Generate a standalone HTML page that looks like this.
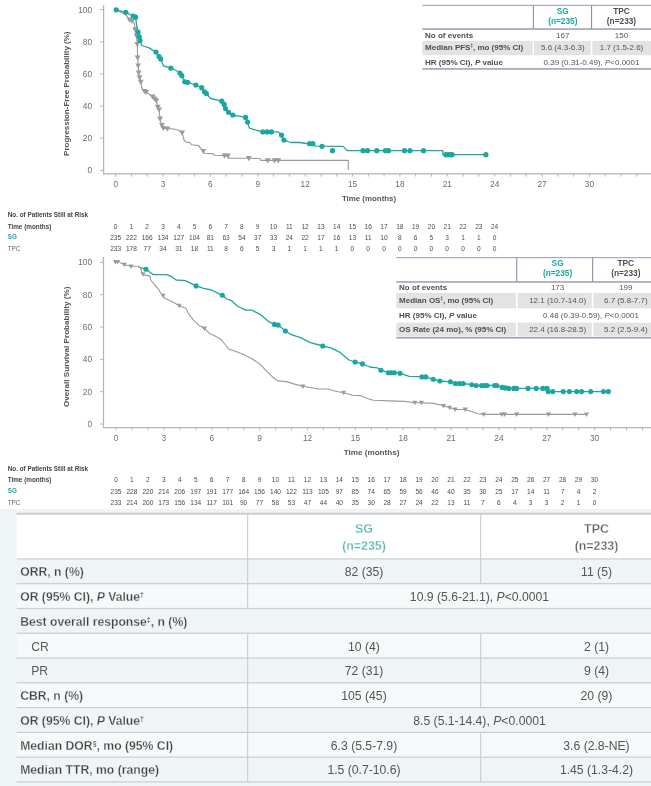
<!DOCTYPE html>
<html><head><meta charset="utf-8"><title>PFS / OS Kaplan-Meier and response table</title>
<style>
html,body{margin:0;padding:0;background:#ffffff;}
body{width:651px;height:786px;overflow:hidden;font-family:"Liberation Sans",sans-serif;}
svg{display:block;font-family:"Liberation Sans",sans-serif;will-change:transform;}
</style></head><body>
<svg width="651" height="786" viewBox="0 0 651 786">
<rect x="0" y="0" width="651" height="786" fill="#ffffff"/>
<g id="pfs">
<line x1="103.6" y1="5.2" x2="103.6" y2="173.8" stroke="#b4b4b4" stroke-width="1.25"/>
<line x1="103.0" y1="173.8" x2="651" y2="173.8" stroke="#b4b4b4" stroke-width="1.25"/>
<line x1="100.1" y1="9.6" x2="103.6" y2="9.6" stroke="#b4b4b4" stroke-width="1"/>
<text x="92.1" y="12.6" font-size="8.3" text-anchor="end" font-weight="normal" fill="#6c6c6c" >100</text>
<line x1="100.1" y1="41.8" x2="103.6" y2="41.8" stroke="#b4b4b4" stroke-width="1"/>
<text x="92.1" y="44.7" font-size="8.3" text-anchor="end" font-weight="normal" fill="#6c6c6c" >80</text>
<line x1="100.1" y1="73.9" x2="103.6" y2="73.9" stroke="#b4b4b4" stroke-width="1"/>
<text x="92.1" y="76.9" font-size="8.3" text-anchor="end" font-weight="normal" fill="#6c6c6c" >60</text>
<line x1="100.1" y1="106.1" x2="103.6" y2="106.1" stroke="#b4b4b4" stroke-width="1"/>
<text x="92.1" y="109.0" font-size="8.3" text-anchor="end" font-weight="normal" fill="#6c6c6c" >40</text>
<line x1="100.1" y1="138.2" x2="103.6" y2="138.2" stroke="#b4b4b4" stroke-width="1"/>
<text x="92.1" y="141.2" font-size="8.3" text-anchor="end" font-weight="normal" fill="#6c6c6c" >20</text>
<line x1="100.1" y1="170.4" x2="103.6" y2="170.4" stroke="#b4b4b4" stroke-width="1"/>
<text x="92.1" y="173.3" font-size="8.3" text-anchor="end" font-weight="normal" fill="#6c6c6c" >0</text>
<line x1="115.7" y1="173.8" x2="115.7" y2="176.6" stroke="#b4b4b4" stroke-width="1"/>
<text x="115.7" y="186.8" font-size="8.3" text-anchor="middle" font-weight="normal" fill="#6c6c6c" >0</text>
<line x1="131.5" y1="173.8" x2="131.5" y2="176.6" stroke="#b4b4b4" stroke-width="1"/>
<line x1="147.3" y1="173.8" x2="147.3" y2="176.6" stroke="#b4b4b4" stroke-width="1"/>
<line x1="163.1" y1="173.8" x2="163.1" y2="176.6" stroke="#b4b4b4" stroke-width="1"/>
<text x="163.1" y="186.8" font-size="8.3" text-anchor="middle" font-weight="normal" fill="#6c6c6c" >3</text>
<line x1="178.9" y1="173.8" x2="178.9" y2="176.6" stroke="#b4b4b4" stroke-width="1"/>
<line x1="194.6" y1="173.8" x2="194.6" y2="176.6" stroke="#b4b4b4" stroke-width="1"/>
<line x1="210.4" y1="173.8" x2="210.4" y2="176.6" stroke="#b4b4b4" stroke-width="1"/>
<text x="210.4" y="186.8" font-size="8.3" text-anchor="middle" font-weight="normal" fill="#6c6c6c" >6</text>
<line x1="226.2" y1="173.8" x2="226.2" y2="176.6" stroke="#b4b4b4" stroke-width="1"/>
<line x1="242.0" y1="173.8" x2="242.0" y2="176.6" stroke="#b4b4b4" stroke-width="1"/>
<line x1="257.8" y1="173.8" x2="257.8" y2="176.6" stroke="#b4b4b4" stroke-width="1"/>
<text x="257.8" y="186.8" font-size="8.3" text-anchor="middle" font-weight="normal" fill="#6c6c6c" >9</text>
<line x1="273.6" y1="173.8" x2="273.6" y2="176.6" stroke="#b4b4b4" stroke-width="1"/>
<line x1="289.4" y1="173.8" x2="289.4" y2="176.6" stroke="#b4b4b4" stroke-width="1"/>
<line x1="305.2" y1="173.8" x2="305.2" y2="176.6" stroke="#b4b4b4" stroke-width="1"/>
<text x="305.2" y="186.8" font-size="8.3" text-anchor="middle" font-weight="normal" fill="#6c6c6c" >12</text>
<line x1="321.0" y1="173.8" x2="321.0" y2="176.6" stroke="#b4b4b4" stroke-width="1"/>
<line x1="336.8" y1="173.8" x2="336.8" y2="176.6" stroke="#b4b4b4" stroke-width="1"/>
<line x1="352.6" y1="173.8" x2="352.6" y2="176.6" stroke="#b4b4b4" stroke-width="1"/>
<text x="352.6" y="186.8" font-size="8.3" text-anchor="middle" font-weight="normal" fill="#6c6c6c" >15</text>
<line x1="368.3" y1="173.8" x2="368.3" y2="176.6" stroke="#b4b4b4" stroke-width="1"/>
<line x1="384.1" y1="173.8" x2="384.1" y2="176.6" stroke="#b4b4b4" stroke-width="1"/>
<line x1="399.9" y1="173.8" x2="399.9" y2="176.6" stroke="#b4b4b4" stroke-width="1"/>
<text x="399.9" y="186.8" font-size="8.3" text-anchor="middle" font-weight="normal" fill="#6c6c6c" >18</text>
<line x1="415.7" y1="173.8" x2="415.7" y2="176.6" stroke="#b4b4b4" stroke-width="1"/>
<line x1="431.5" y1="173.8" x2="431.5" y2="176.6" stroke="#b4b4b4" stroke-width="1"/>
<line x1="447.3" y1="173.8" x2="447.3" y2="176.6" stroke="#b4b4b4" stroke-width="1"/>
<text x="447.3" y="186.8" font-size="8.3" text-anchor="middle" font-weight="normal" fill="#6c6c6c" >21</text>
<line x1="463.1" y1="173.8" x2="463.1" y2="176.6" stroke="#b4b4b4" stroke-width="1"/>
<line x1="478.9" y1="173.8" x2="478.9" y2="176.6" stroke="#b4b4b4" stroke-width="1"/>
<line x1="494.7" y1="173.8" x2="494.7" y2="176.6" stroke="#b4b4b4" stroke-width="1"/>
<text x="494.7" y="186.8" font-size="8.3" text-anchor="middle" font-weight="normal" fill="#6c6c6c" >24</text>
<line x1="510.4" y1="173.8" x2="510.4" y2="176.6" stroke="#b4b4b4" stroke-width="1"/>
<line x1="526.2" y1="173.8" x2="526.2" y2="176.6" stroke="#b4b4b4" stroke-width="1"/>
<line x1="542.0" y1="173.8" x2="542.0" y2="176.6" stroke="#b4b4b4" stroke-width="1"/>
<text x="542.0" y="186.8" font-size="8.3" text-anchor="middle" font-weight="normal" fill="#6c6c6c" >27</text>
<line x1="557.8" y1="173.8" x2="557.8" y2="176.6" stroke="#b4b4b4" stroke-width="1"/>
<line x1="573.6" y1="173.8" x2="573.6" y2="176.6" stroke="#b4b4b4" stroke-width="1"/>
<line x1="589.4" y1="173.8" x2="589.4" y2="176.6" stroke="#b4b4b4" stroke-width="1"/>
<text x="589.4" y="186.8" font-size="8.3" text-anchor="middle" font-weight="normal" fill="#6c6c6c" >30</text>
<line x1="605.2" y1="173.8" x2="605.2" y2="176.6" stroke="#b4b4b4" stroke-width="1"/>
<line x1="621.0" y1="173.8" x2="621.0" y2="176.6" stroke="#b4b4b4" stroke-width="1"/>
<line x1="636.8" y1="173.8" x2="636.8" y2="176.6" stroke="#b4b4b4" stroke-width="1"/>
<text transform="translate(68.8 93.7) rotate(-90)" font-size="8.0" font-weight="bold" text-anchor="middle" fill="#555555">Progression-Free Probability (%)</text>
<text x="369.0" y="200.6" font-size="7.9" text-anchor="middle" font-weight="bold" fill="#555555" >Time (months)</text>
<polyline points="116.2,9.8 125.8,14.7 129.5,19.7 131.9,20.9 134.4,23.3 135.1,29.5 136.4,35.6 137.3,44.2 137.6,57.7 138.1,65.6 138.7,72.8 139.6,77.4 140.8,82.0 142.0,88.4 144.4,91.2 146.2,92.1 152.6,96.7 154.5,98.6 156.3,100.4 157.8,106.9 159.1,109.6 160.0,118.8 161.9,125.3 163.2,128.1 167.4,128.6 173.8,129.0 179.4,130.5 182.1,132.7 184.0,140.0 185.8,141.9 190.4,142.8 191.4,144.7 198.7,145.6 199.7,147.1 203.3,151.1 204.3,153.3 213.5,153.9 214.4,155.2 224.5,155.7 227.9,155.7 228.8,158.1 248.8,158.3 260.0,158.5 261.0,160.4 348.3,160.4 348.3,170.0" fill="none" stroke="#9a9a9a" stroke-width="1.1" stroke-linejoin="round"/>
<path d="M126.6 17.5L132.4 17.5L129.5 22.7Z" fill="#9a9a9a"/>
<path d="M129.0 18.7L134.8 18.7L131.9 23.9Z" fill="#9a9a9a"/>
<path d="M132.2 27.3L138.0 27.3L135.1 32.5Z" fill="#9a9a9a"/>
<path d="M133.5 33.4L139.3 33.4L136.4 38.6Z" fill="#9a9a9a"/>
<path d="M134.4 42.0L140.2 42.0L137.3 47.2Z" fill="#9a9a9a"/>
<path d="M134.7 55.5L140.5 55.5L137.6 60.7Z" fill="#9a9a9a"/>
<path d="M135.2 63.4L141.0 63.4L138.1 68.6Z" fill="#9a9a9a"/>
<path d="M135.8 70.6L141.6 70.6L138.7 75.8Z" fill="#9a9a9a"/>
<path d="M136.7 75.2L142.5 75.2L139.6 80.4Z" fill="#9a9a9a"/>
<path d="M137.9 79.8L143.7 79.8L140.8 85.0Z" fill="#9a9a9a"/>
<path d="M141.5 89.0L147.3 89.0L144.4 94.2Z" fill="#9a9a9a"/>
<path d="M143.3 89.9L149.1 89.9L146.2 95.1Z" fill="#9a9a9a"/>
<path d="M149.7 94.5L155.5 94.5L152.6 99.7Z" fill="#9a9a9a"/>
<path d="M151.6 96.4L157.4 96.4L154.5 101.6Z" fill="#9a9a9a"/>
<path d="M153.4 98.2L159.2 98.2L156.3 103.4Z" fill="#9a9a9a"/>
<path d="M154.9 104.7L160.7 104.7L157.8 109.9Z" fill="#9a9a9a"/>
<path d="M156.2 107.4L162.0 107.4L159.1 112.6Z" fill="#9a9a9a"/>
<path d="M157.1 116.6L162.9 116.6L160.0 121.8Z" fill="#9a9a9a"/>
<path d="M159.0 123.1L164.8 123.1L161.9 128.3Z" fill="#9a9a9a"/>
<path d="M160.3 125.9L166.1 125.9L163.2 131.1Z" fill="#9a9a9a"/>
<path d="M164.5 126.4L170.3 126.4L167.4 131.6Z" fill="#9a9a9a"/>
<path d="M179.2 130.5L185.0 130.5L182.1 135.7Z" fill="#9a9a9a"/>
<path d="M200.4 148.9L206.2 148.9L203.3 154.1Z" fill="#9a9a9a"/>
<path d="M221.6 153.5L227.4 153.5L224.5 158.7Z" fill="#9a9a9a"/>
<path d="M225.0 153.5L230.8 153.5L227.9 158.7Z" fill="#9a9a9a"/>
<path d="M245.9 156.1L251.7 156.1L248.8 161.3Z" fill="#9a9a9a"/>
<path d="M264.8 158.2L270.6 158.2L267.7 163.4Z" fill="#9a9a9a"/>
<path d="M271.7 158.2L277.5 158.2L274.6 163.4Z" fill="#9a9a9a"/>
<path d="M275.4 158.2L281.2 158.2L278.3 163.4Z" fill="#9a9a9a"/>
<polyline points="116.2,9.8 125.8,12.3 133.2,16.0 135.6,17.2 136.9,27.0 138.1,32.0 139.3,36.9 140.0,40.5 141.8,45.5 149.1,47.9 156.0,52.1 159.0,56.5 160.7,59.0 163.4,65.8 170.8,68.1 176.2,70.5 179.9,73.0 181.8,75.7 184.8,81.8 187.7,82.3 195.8,85.0 201.7,87.7 204.5,91.8 206.4,93.6 210.7,98.5 221.8,101.2 224.2,104.4 225.5,108.6 228.6,112.3 232.8,115.0 239.0,116.2 245.6,117.4 247.6,122.1 249.3,128.2 256.2,130.2 262.8,131.9 278.3,131.9 281.5,135.1 283.9,140.0 290.6,142.5 300.0,142.5 306.0,143.5 313.5,143.7 315.4,146.1 343.0,146.4 347.6,150.7 442.9,150.7 442.9,154.7 485.9,154.7" fill="none" stroke="#1ba7a0" stroke-width="1.3" stroke-linejoin="round"/>
<circle cx="116.2" cy="9.8" r="2.6" fill="#1ba7a0"/>
<circle cx="125.8" cy="12.3" r="2.6" fill="#1ba7a0"/>
<circle cx="133.2" cy="16.0" r="2.6" fill="#1ba7a0"/>
<circle cx="135.6" cy="17.2" r="2.6" fill="#1ba7a0"/>
<circle cx="138.1" cy="32.0" r="2.6" fill="#1ba7a0"/>
<circle cx="139.3" cy="36.9" r="2.6" fill="#1ba7a0"/>
<circle cx="140.0" cy="40.5" r="2.6" fill="#1ba7a0"/>
<circle cx="156.0" cy="52.1" r="2.6" fill="#1ba7a0"/>
<circle cx="159.0" cy="56.5" r="2.6" fill="#1ba7a0"/>
<circle cx="160.7" cy="59.0" r="2.6" fill="#1ba7a0"/>
<circle cx="170.8" cy="68.1" r="2.6" fill="#1ba7a0"/>
<circle cx="179.9" cy="73.0" r="2.6" fill="#1ba7a0"/>
<circle cx="181.8" cy="75.7" r="2.6" fill="#1ba7a0"/>
<circle cx="184.8" cy="81.8" r="2.6" fill="#1ba7a0"/>
<circle cx="187.7" cy="82.3" r="2.6" fill="#1ba7a0"/>
<circle cx="195.8" cy="85.0" r="2.6" fill="#1ba7a0"/>
<circle cx="201.7" cy="87.7" r="2.6" fill="#1ba7a0"/>
<circle cx="204.5" cy="91.8" r="2.6" fill="#1ba7a0"/>
<circle cx="206.4" cy="93.6" r="2.6" fill="#1ba7a0"/>
<circle cx="221.8" cy="101.2" r="2.6" fill="#1ba7a0"/>
<circle cx="224.2" cy="104.4" r="2.6" fill="#1ba7a0"/>
<circle cx="225.5" cy="108.6" r="2.6" fill="#1ba7a0"/>
<circle cx="228.6" cy="112.3" r="2.6" fill="#1ba7a0"/>
<circle cx="232.8" cy="115.0" r="2.6" fill="#1ba7a0"/>
<circle cx="245.6" cy="117.4" r="2.6" fill="#1ba7a0"/>
<circle cx="247.6" cy="122.1" r="2.6" fill="#1ba7a0"/>
<circle cx="262.8" cy="131.9" r="2.6" fill="#1ba7a0"/>
<circle cx="267.2" cy="131.9" r="2.6" fill="#1ba7a0"/>
<circle cx="271.4" cy="131.9" r="2.6" fill="#1ba7a0"/>
<circle cx="281.5" cy="135.1" r="2.6" fill="#1ba7a0"/>
<circle cx="283.9" cy="140.0" r="2.6" fill="#1ba7a0"/>
<circle cx="309.6" cy="143.7" r="2.6" fill="#1ba7a0"/>
<circle cx="312.8" cy="143.7" r="2.6" fill="#1ba7a0"/>
<circle cx="322.0" cy="146.3" r="2.6" fill="#1ba7a0"/>
<circle cx="332.5" cy="150.7" r="2.6" fill="#1ba7a0"/>
<circle cx="363.0" cy="150.7" r="2.6" fill="#1ba7a0"/>
<circle cx="367.6" cy="150.7" r="2.6" fill="#1ba7a0"/>
<circle cx="376.8" cy="150.7" r="2.6" fill="#1ba7a0"/>
<circle cx="385.4" cy="150.7" r="2.6" fill="#1ba7a0"/>
<circle cx="388.5" cy="150.7" r="2.6" fill="#1ba7a0"/>
<circle cx="404.5" cy="150.7" r="2.6" fill="#1ba7a0"/>
<circle cx="410.0" cy="150.7" r="2.6" fill="#1ba7a0"/>
<circle cx="423.5" cy="150.7" r="2.6" fill="#1ba7a0"/>
<circle cx="445.9" cy="154.7" r="2.6" fill="#1ba7a0"/>
<circle cx="448.4" cy="154.7" r="2.6" fill="#1ba7a0"/>
<circle cx="450.5" cy="154.7" r="2.6" fill="#1ba7a0"/>
<circle cx="452.1" cy="154.7" r="2.6" fill="#1ba7a0"/>
<circle cx="485.9" cy="154.7" r="2.6" fill="#1ba7a0"/>
</g>
<g id="os">
<line x1="103.5" y1="257.0" x2="103.5" y2="427.5" stroke="#b4b4b4" stroke-width="1.25"/>
<line x1="102.9" y1="427.5" x2="651" y2="427.5" stroke="#b4b4b4" stroke-width="1.25"/>
<line x1="100.0" y1="262.4" x2="103.5" y2="262.4" stroke="#b4b4b4" stroke-width="1"/>
<text x="92.0" y="265.3" font-size="8.3" text-anchor="end" font-weight="normal" fill="#6c6c6c" >100</text>
<line x1="100.0" y1="294.7" x2="103.5" y2="294.7" stroke="#b4b4b4" stroke-width="1"/>
<text x="92.0" y="297.7" font-size="8.3" text-anchor="end" font-weight="normal" fill="#6c6c6c" >80</text>
<line x1="100.0" y1="327.0" x2="103.5" y2="327.0" stroke="#b4b4b4" stroke-width="1"/>
<text x="92.0" y="330.0" font-size="8.3" text-anchor="end" font-weight="normal" fill="#6c6c6c" >60</text>
<line x1="100.0" y1="359.4" x2="103.5" y2="359.4" stroke="#b4b4b4" stroke-width="1"/>
<text x="92.0" y="362.3" font-size="8.3" text-anchor="end" font-weight="normal" fill="#6c6c6c" >40</text>
<line x1="100.0" y1="391.7" x2="103.5" y2="391.7" stroke="#b4b4b4" stroke-width="1"/>
<text x="92.0" y="394.6" font-size="8.3" text-anchor="end" font-weight="normal" fill="#6c6c6c" >20</text>
<line x1="100.0" y1="424.0" x2="103.5" y2="424.0" stroke="#b4b4b4" stroke-width="1"/>
<text x="92.0" y="426.9" font-size="8.3" text-anchor="end" font-weight="normal" fill="#6c6c6c" >0</text>
<line x1="116.1" y1="427.5" x2="116.1" y2="430.3" stroke="#b4b4b4" stroke-width="1"/>
<text x="116.1" y="440.5" font-size="8.3" text-anchor="middle" font-weight="normal" fill="#6c6c6c" >0</text>
<line x1="132.0" y1="427.5" x2="132.0" y2="430.3" stroke="#b4b4b4" stroke-width="1"/>
<line x1="148.0" y1="427.5" x2="148.0" y2="430.3" stroke="#b4b4b4" stroke-width="1"/>
<line x1="163.9" y1="427.5" x2="163.9" y2="430.3" stroke="#b4b4b4" stroke-width="1"/>
<text x="163.9" y="440.5" font-size="8.3" text-anchor="middle" font-weight="normal" fill="#6c6c6c" >3</text>
<line x1="179.9" y1="427.5" x2="179.9" y2="430.3" stroke="#b4b4b4" stroke-width="1"/>
<line x1="195.8" y1="427.5" x2="195.8" y2="430.3" stroke="#b4b4b4" stroke-width="1"/>
<line x1="211.8" y1="427.5" x2="211.8" y2="430.3" stroke="#b4b4b4" stroke-width="1"/>
<text x="211.8" y="440.5" font-size="8.3" text-anchor="middle" font-weight="normal" fill="#6c6c6c" >6</text>
<line x1="227.8" y1="427.5" x2="227.8" y2="430.3" stroke="#b4b4b4" stroke-width="1"/>
<line x1="243.7" y1="427.5" x2="243.7" y2="430.3" stroke="#b4b4b4" stroke-width="1"/>
<line x1="259.6" y1="427.5" x2="259.6" y2="430.3" stroke="#b4b4b4" stroke-width="1"/>
<text x="259.6" y="440.5" font-size="8.3" text-anchor="middle" font-weight="normal" fill="#6c6c6c" >9</text>
<line x1="275.6" y1="427.5" x2="275.6" y2="430.3" stroke="#b4b4b4" stroke-width="1"/>
<line x1="291.5" y1="427.5" x2="291.5" y2="430.3" stroke="#b4b4b4" stroke-width="1"/>
<line x1="307.5" y1="427.5" x2="307.5" y2="430.3" stroke="#b4b4b4" stroke-width="1"/>
<text x="307.5" y="440.5" font-size="8.3" text-anchor="middle" font-weight="normal" fill="#6c6c6c" >12</text>
<line x1="323.4" y1="427.5" x2="323.4" y2="430.3" stroke="#b4b4b4" stroke-width="1"/>
<line x1="339.4" y1="427.5" x2="339.4" y2="430.3" stroke="#b4b4b4" stroke-width="1"/>
<line x1="355.4" y1="427.5" x2="355.4" y2="430.3" stroke="#b4b4b4" stroke-width="1"/>
<text x="355.4" y="440.5" font-size="8.3" text-anchor="middle" font-weight="normal" fill="#6c6c6c" >15</text>
<line x1="371.3" y1="427.5" x2="371.3" y2="430.3" stroke="#b4b4b4" stroke-width="1"/>
<line x1="387.2" y1="427.5" x2="387.2" y2="430.3" stroke="#b4b4b4" stroke-width="1"/>
<line x1="403.2" y1="427.5" x2="403.2" y2="430.3" stroke="#b4b4b4" stroke-width="1"/>
<text x="403.2" y="440.5" font-size="8.3" text-anchor="middle" font-weight="normal" fill="#6c6c6c" >18</text>
<line x1="419.1" y1="427.5" x2="419.1" y2="430.3" stroke="#b4b4b4" stroke-width="1"/>
<line x1="435.1" y1="427.5" x2="435.1" y2="430.3" stroke="#b4b4b4" stroke-width="1"/>
<line x1="451.0" y1="427.5" x2="451.0" y2="430.3" stroke="#b4b4b4" stroke-width="1"/>
<text x="451.0" y="440.5" font-size="8.3" text-anchor="middle" font-weight="normal" fill="#6c6c6c" >21</text>
<line x1="467.0" y1="427.5" x2="467.0" y2="430.3" stroke="#b4b4b4" stroke-width="1"/>
<line x1="482.9" y1="427.5" x2="482.9" y2="430.3" stroke="#b4b4b4" stroke-width="1"/>
<line x1="498.9" y1="427.5" x2="498.9" y2="430.3" stroke="#b4b4b4" stroke-width="1"/>
<text x="498.9" y="440.5" font-size="8.3" text-anchor="middle" font-weight="normal" fill="#6c6c6c" >24</text>
<line x1="514.9" y1="427.5" x2="514.9" y2="430.3" stroke="#b4b4b4" stroke-width="1"/>
<line x1="530.8" y1="427.5" x2="530.8" y2="430.3" stroke="#b4b4b4" stroke-width="1"/>
<line x1="546.8" y1="427.5" x2="546.8" y2="430.3" stroke="#b4b4b4" stroke-width="1"/>
<text x="546.8" y="440.5" font-size="8.3" text-anchor="middle" font-weight="normal" fill="#6c6c6c" >27</text>
<line x1="562.7" y1="427.5" x2="562.7" y2="430.3" stroke="#b4b4b4" stroke-width="1"/>
<line x1="578.6" y1="427.5" x2="578.6" y2="430.3" stroke="#b4b4b4" stroke-width="1"/>
<line x1="594.6" y1="427.5" x2="594.6" y2="430.3" stroke="#b4b4b4" stroke-width="1"/>
<text x="594.6" y="440.5" font-size="8.3" text-anchor="middle" font-weight="normal" fill="#6c6c6c" >30</text>
<line x1="610.5" y1="427.5" x2="610.5" y2="430.3" stroke="#b4b4b4" stroke-width="1"/>
<line x1="626.5" y1="427.5" x2="626.5" y2="430.3" stroke="#b4b4b4" stroke-width="1"/>
<line x1="642.5" y1="427.5" x2="642.5" y2="430.3" stroke="#b4b4b4" stroke-width="1"/>
<text transform="translate(68.7 346.8) rotate(-90)" font-size="8.12" font-weight="bold" text-anchor="middle" fill="#555555">Overall Survival Probability (%)</text>
<text x="371.6" y="455.2" font-size="8.1" text-anchor="middle" font-weight="bold" fill="#555555" >Time (months)</text>
<polyline points="138.5,266.6 141.0,267.8 146.1,269.2 153.0,274.6 166.9,274.6 172.2,276.9 176.1,280.0 185.3,280.7 196.1,285.8 203.7,288.4 211.4,290.0 222.3,295.3 226.8,299.0 231.1,300.3 237.2,306.0 245.8,310.1 251.9,310.1 260.5,314.6 269.1,321.9 274.5,324.4 278.2,325.1 285.4,331.0 291.3,334.7 301.1,337.9 309.7,342.3 322.7,346.0 331.8,348.2 340.4,352.7 349.0,360.0 355.1,362.0 362.5,363.9 369.8,367.0 377.2,367.8 380.9,370.2 388.3,372.7 400.0,373.2 409.1,376.4 425.8,376.9 433.2,379.3 439.9,381.0 450.4,381.8 455.3,383.5 463.2,383.5 471.8,384.7 476.2,385.5 496.8,385.5 502.1,387.4 505.2,387.9 508.7,388.4 547.0,388.4 548.2,391.6 608.4,391.6" fill="none" stroke="#1ba7a0" stroke-width="1.3" stroke-linejoin="round"/>
<circle cx="146.0" cy="269.2" r="2.55" fill="#1ba7a0"/>
<circle cx="196.1" cy="285.9" r="2.55" fill="#1ba7a0"/>
<circle cx="222.3" cy="295.3" r="2.55" fill="#1ba7a0"/>
<circle cx="274.5" cy="324.4" r="2.55" fill="#1ba7a0"/>
<circle cx="278.2" cy="325.1" r="2.55" fill="#1ba7a0"/>
<circle cx="285.4" cy="331.0" r="2.55" fill="#1ba7a0"/>
<circle cx="322.7" cy="346.0" r="2.55" fill="#1ba7a0"/>
<circle cx="355.1" cy="362.0" r="2.55" fill="#1ba7a0"/>
<circle cx="362.5" cy="363.9" r="2.55" fill="#1ba7a0"/>
<circle cx="380.9" cy="370.2" r="2.55" fill="#1ba7a0"/>
<circle cx="388.3" cy="372.7" r="2.55" fill="#1ba7a0"/>
<circle cx="391.2" cy="372.7" r="2.55" fill="#1ba7a0"/>
<circle cx="394.4" cy="372.7" r="2.55" fill="#1ba7a0"/>
<circle cx="400.0" cy="373.2" r="2.55" fill="#1ba7a0"/>
<circle cx="421.9" cy="376.9" r="2.55" fill="#1ba7a0"/>
<circle cx="425.8" cy="376.9" r="2.55" fill="#1ba7a0"/>
<circle cx="433.2" cy="379.3" r="2.55" fill="#1ba7a0"/>
<circle cx="439.9" cy="381.0" r="2.55" fill="#1ba7a0"/>
<circle cx="450.4" cy="381.8" r="2.55" fill="#1ba7a0"/>
<circle cx="455.3" cy="383.5" r="2.55" fill="#1ba7a0"/>
<circle cx="459.5" cy="383.5" r="2.55" fill="#1ba7a0"/>
<circle cx="463.2" cy="383.5" r="2.55" fill="#1ba7a0"/>
<circle cx="471.8" cy="384.7" r="2.55" fill="#1ba7a0"/>
<circle cx="476.2" cy="385.5" r="2.55" fill="#1ba7a0"/>
<circle cx="481.6" cy="385.5" r="2.55" fill="#1ba7a0"/>
<circle cx="484.6" cy="385.5" r="2.55" fill="#1ba7a0"/>
<circle cx="487.0" cy="385.5" r="2.55" fill="#1ba7a0"/>
<circle cx="494.7" cy="385.5" r="2.55" fill="#1ba7a0"/>
<circle cx="496.8" cy="385.5" r="2.55" fill="#1ba7a0"/>
<circle cx="502.1" cy="387.4" r="2.55" fill="#1ba7a0"/>
<circle cx="505.2" cy="387.9" r="2.55" fill="#1ba7a0"/>
<circle cx="508.7" cy="388.4" r="2.55" fill="#1ba7a0"/>
<circle cx="513.8" cy="388.4" r="2.55" fill="#1ba7a0"/>
<circle cx="516.6" cy="388.4" r="2.55" fill="#1ba7a0"/>
<circle cx="528.1" cy="388.4" r="2.55" fill="#1ba7a0"/>
<circle cx="536.2" cy="388.4" r="2.55" fill="#1ba7a0"/>
<circle cx="542.8" cy="388.4" r="2.55" fill="#1ba7a0"/>
<circle cx="547.0" cy="388.4" r="2.55" fill="#1ba7a0"/>
<circle cx="548.2" cy="391.6" r="2.55" fill="#1ba7a0"/>
<circle cx="552.7" cy="391.6" r="2.55" fill="#1ba7a0"/>
<circle cx="563.2" cy="391.6" r="2.55" fill="#1ba7a0"/>
<circle cx="569.4" cy="391.6" r="2.55" fill="#1ba7a0"/>
<circle cx="576.7" cy="391.6" r="2.55" fill="#1ba7a0"/>
<circle cx="581.6" cy="391.6" r="2.55" fill="#1ba7a0"/>
<circle cx="590.7" cy="391.6" r="2.55" fill="#1ba7a0"/>
<circle cx="603.5" cy="391.6" r="2.55" fill="#1ba7a0"/>
<circle cx="608.4" cy="391.6" r="2.55" fill="#1ba7a0"/>
<polyline points="115.8,261.5 119.0,262.0 124.4,264.7 131.0,266.2 137.7,266.2 140.8,268.4 141.5,271.5 143.1,274.6 150.0,276.1 150.7,280.0 154.6,284.6 158.4,289.2 160.7,293.0 163.0,296.1 164.6,298.1 174.5,303.0 179.2,305.8 186.1,308.4 187.6,312.2 191.4,317.6 194.5,321.4 199.1,325.3 204.5,328.7 209.9,333.7 213.7,335.3 219.1,338.3 222.0,340.5 228.6,349.0 236.0,351.4 244.6,355.1 251.9,358.8 259.3,363.7 266.7,371.1 272.8,377.2 277.7,380.9 286.3,381.6 293.7,383.9 302.8,386.3 318.3,389.0 328.1,389.0 335.5,391.2 343.6,392.7 352.7,395.2 360.0,395.6 367.4,398.5 373.5,400.2 389.5,400.9 404.2,401.4 414.8,402.7 421.4,402.7 433.7,403.4 443.5,405.8 449.7,407.6 455.1,409.5 465.2,409.5 470.6,411.3 477.9,413.7 483.6,414.4 586.6,414.4" fill="none" stroke="#9a9a9a" stroke-width="1.1" stroke-linejoin="round"/>
<path d="M112.8 259.9L117.8 259.9L115.3 264.4Z" fill="#9a9a9a"/>
<path d="M115.0 259.9L120.0 259.9L117.5 264.4Z" fill="#9a9a9a"/>
<path d="M121.9 262.8L126.9 262.8L124.4 267.3Z" fill="#9a9a9a"/>
<path d="M128.5 264.5L133.5 264.5L131.0 269.0Z" fill="#9a9a9a"/>
<path d="M140.5 272.3L145.5 272.3L143.0 276.8Z" fill="#9a9a9a"/>
<path d="M160.6 293.7L165.6 293.7L163.1 298.2Z" fill="#9a9a9a"/>
<path d="M176.7 303.7L181.7 303.7L179.2 308.2Z" fill="#9a9a9a"/>
<path d="M202.0 326.6L207.0 326.6L204.5 331.1Z" fill="#9a9a9a"/>
<path d="M300.3 384.4L305.3 384.4L302.8 388.9Z" fill="#9a9a9a"/>
<path d="M341.1 390.8L346.1 390.8L343.6 395.3Z" fill="#9a9a9a"/>
<path d="M412.3 400.8L417.3 400.8L414.8 405.3Z" fill="#9a9a9a"/>
<path d="M418.9 400.8L423.9 400.8L421.4 405.3Z" fill="#9a9a9a"/>
<path d="M441.0 403.9L446.0 403.9L443.5 408.4Z" fill="#9a9a9a"/>
<path d="M447.2 405.7L452.2 405.7L449.7 410.2Z" fill="#9a9a9a"/>
<path d="M452.6 407.6L457.6 407.6L455.1 412.1Z" fill="#9a9a9a"/>
<path d="M462.7 407.6L467.7 407.6L465.2 412.1Z" fill="#9a9a9a"/>
<path d="M481.1 412.5L486.1 412.5L483.6 417.0Z" fill="#9a9a9a"/>
<path d="M499.3 412.5L504.3 412.5L501.8 417.0Z" fill="#9a9a9a"/>
<path d="M502.1 412.5L507.1 412.5L504.6 417.0Z" fill="#9a9a9a"/>
<path d="M514.1 412.5L519.1 412.5L516.6 417.0Z" fill="#9a9a9a"/>
<path d="M546.0 412.5L551.0 412.5L548.5 417.0Z" fill="#9a9a9a"/>
<path d="M572.5 412.5L577.5 412.5L575.0 417.0Z" fill="#9a9a9a"/>
<path d="M584.1 412.5L589.1 412.5L586.6 417.0Z" fill="#9a9a9a"/>
</g>
<g id="risk">
<text x="7.7" y="217.3" font-size="6.35" text-anchor="start" font-weight="bold" fill="#444" >No. of Patients Still at Risk</text>
<text x="7.7" y="228.7" font-size="6.35" text-anchor="start" font-weight="bold" fill="#444" >Time (months)</text>
<text x="7.7" y="239.2" font-size="6.35" text-anchor="start" font-weight="bold" fill="#1ba7a0" >SG</text>
<text x="7.7" y="250.6" font-size="6.35" text-anchor="start" font-weight="normal" fill="#666" >TPC</text>
<text x="115.6" y="228.7" font-size="6.55" text-anchor="middle" font-weight="normal" fill="#4c4c4c" >0</text>
<text x="115.6" y="239.6" font-size="6.55" text-anchor="middle" font-weight="normal" fill="#4c4c4c" >235</text>
<text x="115.6" y="250.6" font-size="6.55" text-anchor="middle" font-weight="normal" fill="#4c4c4c" >233</text>
<text x="131.4" y="228.7" font-size="6.55" text-anchor="middle" font-weight="normal" fill="#4c4c4c" >1</text>
<text x="131.4" y="239.6" font-size="6.55" text-anchor="middle" font-weight="normal" fill="#4c4c4c" >222</text>
<text x="131.4" y="250.6" font-size="6.55" text-anchor="middle" font-weight="normal" fill="#4c4c4c" >178</text>
<text x="147.2" y="228.7" font-size="6.55" text-anchor="middle" font-weight="normal" fill="#4c4c4c" >2</text>
<text x="147.2" y="239.6" font-size="6.55" text-anchor="middle" font-weight="normal" fill="#4c4c4c" >166</text>
<text x="147.2" y="250.6" font-size="6.55" text-anchor="middle" font-weight="normal" fill="#4c4c4c" >77</text>
<text x="163.0" y="228.7" font-size="6.55" text-anchor="middle" font-weight="normal" fill="#4c4c4c" >3</text>
<text x="163.0" y="239.6" font-size="6.55" text-anchor="middle" font-weight="normal" fill="#4c4c4c" >134</text>
<text x="163.0" y="250.6" font-size="6.55" text-anchor="middle" font-weight="normal" fill="#4c4c4c" >34</text>
<text x="178.8" y="228.7" font-size="6.55" text-anchor="middle" font-weight="normal" fill="#4c4c4c" >4</text>
<text x="178.8" y="239.6" font-size="6.55" text-anchor="middle" font-weight="normal" fill="#4c4c4c" >127</text>
<text x="178.8" y="250.6" font-size="6.55" text-anchor="middle" font-weight="normal" fill="#4c4c4c" >31</text>
<text x="194.5" y="228.7" font-size="6.55" text-anchor="middle" font-weight="normal" fill="#4c4c4c" >5</text>
<text x="194.5" y="239.6" font-size="6.55" text-anchor="middle" font-weight="normal" fill="#4c4c4c" >104</text>
<text x="194.5" y="250.6" font-size="6.55" text-anchor="middle" font-weight="normal" fill="#4c4c4c" >18</text>
<text x="210.3" y="228.7" font-size="6.55" text-anchor="middle" font-weight="normal" fill="#4c4c4c" >6</text>
<text x="210.3" y="239.6" font-size="6.55" text-anchor="middle" font-weight="normal" fill="#4c4c4c" >81</text>
<text x="210.3" y="250.6" font-size="6.55" text-anchor="middle" font-weight="normal" fill="#4c4c4c" >11</text>
<text x="226.1" y="228.7" font-size="6.55" text-anchor="middle" font-weight="normal" fill="#4c4c4c" >7</text>
<text x="226.1" y="239.6" font-size="6.55" text-anchor="middle" font-weight="normal" fill="#4c4c4c" >63</text>
<text x="226.1" y="250.6" font-size="6.55" text-anchor="middle" font-weight="normal" fill="#4c4c4c" >8</text>
<text x="241.9" y="228.7" font-size="6.55" text-anchor="middle" font-weight="normal" fill="#4c4c4c" >8</text>
<text x="241.9" y="239.6" font-size="6.55" text-anchor="middle" font-weight="normal" fill="#4c4c4c" >54</text>
<text x="241.9" y="250.6" font-size="6.55" text-anchor="middle" font-weight="normal" fill="#4c4c4c" >6</text>
<text x="257.7" y="228.7" font-size="6.55" text-anchor="middle" font-weight="normal" fill="#4c4c4c" >9</text>
<text x="257.7" y="239.6" font-size="6.55" text-anchor="middle" font-weight="normal" fill="#4c4c4c" >37</text>
<text x="257.7" y="250.6" font-size="6.55" text-anchor="middle" font-weight="normal" fill="#4c4c4c" >5</text>
<text x="273.5" y="228.7" font-size="6.55" text-anchor="middle" font-weight="normal" fill="#4c4c4c" >10</text>
<text x="273.5" y="239.6" font-size="6.55" text-anchor="middle" font-weight="normal" fill="#4c4c4c" >33</text>
<text x="273.5" y="250.6" font-size="6.55" text-anchor="middle" font-weight="normal" fill="#4c4c4c" >3</text>
<text x="289.3" y="228.7" font-size="6.55" text-anchor="middle" font-weight="normal" fill="#4c4c4c" >11</text>
<text x="289.3" y="239.6" font-size="6.55" text-anchor="middle" font-weight="normal" fill="#4c4c4c" >24</text>
<text x="289.3" y="250.6" font-size="6.55" text-anchor="middle" font-weight="normal" fill="#4c4c4c" >1</text>
<text x="305.1" y="228.7" font-size="6.55" text-anchor="middle" font-weight="normal" fill="#4c4c4c" >12</text>
<text x="305.1" y="239.6" font-size="6.55" text-anchor="middle" font-weight="normal" fill="#4c4c4c" >22</text>
<text x="305.1" y="250.6" font-size="6.55" text-anchor="middle" font-weight="normal" fill="#4c4c4c" >1</text>
<text x="320.9" y="228.7" font-size="6.55" text-anchor="middle" font-weight="normal" fill="#4c4c4c" >13</text>
<text x="320.9" y="239.6" font-size="6.55" text-anchor="middle" font-weight="normal" fill="#4c4c4c" >17</text>
<text x="320.9" y="250.6" font-size="6.55" text-anchor="middle" font-weight="normal" fill="#4c4c4c" >1</text>
<text x="336.7" y="228.7" font-size="6.55" text-anchor="middle" font-weight="normal" fill="#4c4c4c" >14</text>
<text x="336.7" y="239.6" font-size="6.55" text-anchor="middle" font-weight="normal" fill="#4c4c4c" >16</text>
<text x="336.7" y="250.6" font-size="6.55" text-anchor="middle" font-weight="normal" fill="#4c4c4c" >1</text>
<text x="352.4" y="228.7" font-size="6.55" text-anchor="middle" font-weight="normal" fill="#4c4c4c" >15</text>
<text x="352.4" y="239.6" font-size="6.55" text-anchor="middle" font-weight="normal" fill="#4c4c4c" >13</text>
<text x="352.4" y="250.6" font-size="6.55" text-anchor="middle" font-weight="normal" fill="#4c4c4c" >0</text>
<text x="368.2" y="228.7" font-size="6.55" text-anchor="middle" font-weight="normal" fill="#4c4c4c" >16</text>
<text x="368.2" y="239.6" font-size="6.55" text-anchor="middle" font-weight="normal" fill="#4c4c4c" >11</text>
<text x="368.2" y="250.6" font-size="6.55" text-anchor="middle" font-weight="normal" fill="#4c4c4c" >0</text>
<text x="384.0" y="228.7" font-size="6.55" text-anchor="middle" font-weight="normal" fill="#4c4c4c" >17</text>
<text x="384.0" y="239.6" font-size="6.55" text-anchor="middle" font-weight="normal" fill="#4c4c4c" >10</text>
<text x="384.0" y="250.6" font-size="6.55" text-anchor="middle" font-weight="normal" fill="#4c4c4c" >0</text>
<text x="399.8" y="228.7" font-size="6.55" text-anchor="middle" font-weight="normal" fill="#4c4c4c" >18</text>
<text x="399.8" y="239.6" font-size="6.55" text-anchor="middle" font-weight="normal" fill="#4c4c4c" >8</text>
<text x="399.8" y="250.6" font-size="6.55" text-anchor="middle" font-weight="normal" fill="#4c4c4c" >0</text>
<text x="415.6" y="228.7" font-size="6.55" text-anchor="middle" font-weight="normal" fill="#4c4c4c" >19</text>
<text x="415.6" y="239.6" font-size="6.55" text-anchor="middle" font-weight="normal" fill="#4c4c4c" >6</text>
<text x="415.6" y="250.6" font-size="6.55" text-anchor="middle" font-weight="normal" fill="#4c4c4c" >0</text>
<text x="431.4" y="228.7" font-size="6.55" text-anchor="middle" font-weight="normal" fill="#4c4c4c" >20</text>
<text x="431.4" y="239.6" font-size="6.55" text-anchor="middle" font-weight="normal" fill="#4c4c4c" >5</text>
<text x="431.4" y="250.6" font-size="6.55" text-anchor="middle" font-weight="normal" fill="#4c4c4c" >0</text>
<text x="447.2" y="228.7" font-size="6.55" text-anchor="middle" font-weight="normal" fill="#4c4c4c" >21</text>
<text x="447.2" y="239.6" font-size="6.55" text-anchor="middle" font-weight="normal" fill="#4c4c4c" >3</text>
<text x="447.2" y="250.6" font-size="6.55" text-anchor="middle" font-weight="normal" fill="#4c4c4c" >0</text>
<text x="463.0" y="228.7" font-size="6.55" text-anchor="middle" font-weight="normal" fill="#4c4c4c" >22</text>
<text x="463.0" y="239.6" font-size="6.55" text-anchor="middle" font-weight="normal" fill="#4c4c4c" >1</text>
<text x="463.0" y="250.6" font-size="6.55" text-anchor="middle" font-weight="normal" fill="#4c4c4c" >0</text>
<text x="478.8" y="228.7" font-size="6.55" text-anchor="middle" font-weight="normal" fill="#4c4c4c" >23</text>
<text x="478.8" y="239.6" font-size="6.55" text-anchor="middle" font-weight="normal" fill="#4c4c4c" >1</text>
<text x="478.8" y="250.6" font-size="6.55" text-anchor="middle" font-weight="normal" fill="#4c4c4c" >0</text>
<text x="494.6" y="228.7" font-size="6.55" text-anchor="middle" font-weight="normal" fill="#4c4c4c" >24</text>
<text x="494.6" y="239.6" font-size="6.55" text-anchor="middle" font-weight="normal" fill="#4c4c4c" >0</text>
<text x="494.6" y="250.6" font-size="6.55" text-anchor="middle" font-weight="normal" fill="#4c4c4c" >0</text>
<text x="7.7" y="471.1" font-size="6.35" text-anchor="start" font-weight="bold" fill="#444" >No. of Patients Still at Risk</text>
<text x="7.7" y="482.3" font-size="6.35" text-anchor="start" font-weight="bold" fill="#444" >Time (months)</text>
<text x="7.7" y="493.4" font-size="6.35" text-anchor="start" font-weight="bold" fill="#1ba7a0" >SG</text>
<text x="7.7" y="504.5" font-size="6.35" text-anchor="start" font-weight="normal" fill="#666" >TPC</text>
<text x="116.0" y="482.3" font-size="6.55" text-anchor="middle" font-weight="normal" fill="#4c4c4c" >0</text>
<text x="116.0" y="493.8" font-size="6.55" text-anchor="middle" font-weight="normal" fill="#4c4c4c" >235</text>
<text x="116.0" y="504.5" font-size="6.55" text-anchor="middle" font-weight="normal" fill="#4c4c4c" >233</text>
<text x="131.9" y="482.3" font-size="6.55" text-anchor="middle" font-weight="normal" fill="#4c4c4c" >1</text>
<text x="131.9" y="493.8" font-size="6.55" text-anchor="middle" font-weight="normal" fill="#4c4c4c" >228</text>
<text x="131.9" y="504.5" font-size="6.55" text-anchor="middle" font-weight="normal" fill="#4c4c4c" >214</text>
<text x="147.9" y="482.3" font-size="6.55" text-anchor="middle" font-weight="normal" fill="#4c4c4c" >2</text>
<text x="147.9" y="493.8" font-size="6.55" text-anchor="middle" font-weight="normal" fill="#4c4c4c" >220</text>
<text x="147.9" y="504.5" font-size="6.55" text-anchor="middle" font-weight="normal" fill="#4c4c4c" >200</text>
<text x="163.8" y="482.3" font-size="6.55" text-anchor="middle" font-weight="normal" fill="#4c4c4c" >3</text>
<text x="163.8" y="493.8" font-size="6.55" text-anchor="middle" font-weight="normal" fill="#4c4c4c" >214</text>
<text x="163.8" y="504.5" font-size="6.55" text-anchor="middle" font-weight="normal" fill="#4c4c4c" >173</text>
<text x="179.8" y="482.3" font-size="6.55" text-anchor="middle" font-weight="normal" fill="#4c4c4c" >4</text>
<text x="179.8" y="493.8" font-size="6.55" text-anchor="middle" font-weight="normal" fill="#4c4c4c" >206</text>
<text x="179.8" y="504.5" font-size="6.55" text-anchor="middle" font-weight="normal" fill="#4c4c4c" >156</text>
<text x="195.8" y="482.3" font-size="6.55" text-anchor="middle" font-weight="normal" fill="#4c4c4c" >5</text>
<text x="195.8" y="493.8" font-size="6.55" text-anchor="middle" font-weight="normal" fill="#4c4c4c" >197</text>
<text x="195.8" y="504.5" font-size="6.55" text-anchor="middle" font-weight="normal" fill="#4c4c4c" >134</text>
<text x="211.7" y="482.3" font-size="6.55" text-anchor="middle" font-weight="normal" fill="#4c4c4c" >6</text>
<text x="211.7" y="493.8" font-size="6.55" text-anchor="middle" font-weight="normal" fill="#4c4c4c" >191</text>
<text x="211.7" y="504.5" font-size="6.55" text-anchor="middle" font-weight="normal" fill="#4c4c4c" >117</text>
<text x="227.6" y="482.3" font-size="6.55" text-anchor="middle" font-weight="normal" fill="#4c4c4c" >7</text>
<text x="227.6" y="493.8" font-size="6.55" text-anchor="middle" font-weight="normal" fill="#4c4c4c" >177</text>
<text x="227.6" y="504.5" font-size="6.55" text-anchor="middle" font-weight="normal" fill="#4c4c4c" >101</text>
<text x="243.6" y="482.3" font-size="6.55" text-anchor="middle" font-weight="normal" fill="#4c4c4c" >8</text>
<text x="243.6" y="493.8" font-size="6.55" text-anchor="middle" font-weight="normal" fill="#4c4c4c" >164</text>
<text x="243.6" y="504.5" font-size="6.55" text-anchor="middle" font-weight="normal" fill="#4c4c4c" >90</text>
<text x="259.5" y="482.3" font-size="6.55" text-anchor="middle" font-weight="normal" fill="#4c4c4c" >9</text>
<text x="259.5" y="493.8" font-size="6.55" text-anchor="middle" font-weight="normal" fill="#4c4c4c" >156</text>
<text x="259.5" y="504.5" font-size="6.55" text-anchor="middle" font-weight="normal" fill="#4c4c4c" >77</text>
<text x="275.5" y="482.3" font-size="6.55" text-anchor="middle" font-weight="normal" fill="#4c4c4c" >10</text>
<text x="275.5" y="493.8" font-size="6.55" text-anchor="middle" font-weight="normal" fill="#4c4c4c" >140</text>
<text x="275.5" y="504.5" font-size="6.55" text-anchor="middle" font-weight="normal" fill="#4c4c4c" >58</text>
<text x="291.4" y="482.3" font-size="6.55" text-anchor="middle" font-weight="normal" fill="#4c4c4c" >11</text>
<text x="291.4" y="493.8" font-size="6.55" text-anchor="middle" font-weight="normal" fill="#4c4c4c" >122</text>
<text x="291.4" y="504.5" font-size="6.55" text-anchor="middle" font-weight="normal" fill="#4c4c4c" >53</text>
<text x="307.4" y="482.3" font-size="6.55" text-anchor="middle" font-weight="normal" fill="#4c4c4c" >12</text>
<text x="307.4" y="493.8" font-size="6.55" text-anchor="middle" font-weight="normal" fill="#4c4c4c" >113</text>
<text x="307.4" y="504.5" font-size="6.55" text-anchor="middle" font-weight="normal" fill="#4c4c4c" >47</text>
<text x="323.4" y="482.3" font-size="6.55" text-anchor="middle" font-weight="normal" fill="#4c4c4c" >13</text>
<text x="323.4" y="493.8" font-size="6.55" text-anchor="middle" font-weight="normal" fill="#4c4c4c" >105</text>
<text x="323.4" y="504.5" font-size="6.55" text-anchor="middle" font-weight="normal" fill="#4c4c4c" >44</text>
<text x="339.3" y="482.3" font-size="6.55" text-anchor="middle" font-weight="normal" fill="#4c4c4c" >14</text>
<text x="339.3" y="493.8" font-size="6.55" text-anchor="middle" font-weight="normal" fill="#4c4c4c" >97</text>
<text x="339.3" y="504.5" font-size="6.55" text-anchor="middle" font-weight="normal" fill="#4c4c4c" >40</text>
<text x="355.2" y="482.3" font-size="6.55" text-anchor="middle" font-weight="normal" fill="#4c4c4c" >15</text>
<text x="355.2" y="493.8" font-size="6.55" text-anchor="middle" font-weight="normal" fill="#4c4c4c" >85</text>
<text x="355.2" y="504.5" font-size="6.55" text-anchor="middle" font-weight="normal" fill="#4c4c4c" >35</text>
<text x="371.2" y="482.3" font-size="6.55" text-anchor="middle" font-weight="normal" fill="#4c4c4c" >16</text>
<text x="371.2" y="493.8" font-size="6.55" text-anchor="middle" font-weight="normal" fill="#4c4c4c" >74</text>
<text x="371.2" y="504.5" font-size="6.55" text-anchor="middle" font-weight="normal" fill="#4c4c4c" >30</text>
<text x="387.1" y="482.3" font-size="6.55" text-anchor="middle" font-weight="normal" fill="#4c4c4c" >17</text>
<text x="387.1" y="493.8" font-size="6.55" text-anchor="middle" font-weight="normal" fill="#4c4c4c" >65</text>
<text x="387.1" y="504.5" font-size="6.55" text-anchor="middle" font-weight="normal" fill="#4c4c4c" >28</text>
<text x="403.1" y="482.3" font-size="6.55" text-anchor="middle" font-weight="normal" fill="#4c4c4c" >18</text>
<text x="403.1" y="493.8" font-size="6.55" text-anchor="middle" font-weight="normal" fill="#4c4c4c" >59</text>
<text x="403.1" y="504.5" font-size="6.55" text-anchor="middle" font-weight="normal" fill="#4c4c4c" >27</text>
<text x="419.1" y="482.3" font-size="6.55" text-anchor="middle" font-weight="normal" fill="#4c4c4c" >19</text>
<text x="419.1" y="493.8" font-size="6.55" text-anchor="middle" font-weight="normal" fill="#4c4c4c" >56</text>
<text x="419.1" y="504.5" font-size="6.55" text-anchor="middle" font-weight="normal" fill="#4c4c4c" >24</text>
<text x="435.0" y="482.3" font-size="6.55" text-anchor="middle" font-weight="normal" fill="#4c4c4c" >20</text>
<text x="435.0" y="493.8" font-size="6.55" text-anchor="middle" font-weight="normal" fill="#4c4c4c" >46</text>
<text x="435.0" y="504.5" font-size="6.55" text-anchor="middle" font-weight="normal" fill="#4c4c4c" >22</text>
<text x="450.9" y="482.3" font-size="6.55" text-anchor="middle" font-weight="normal" fill="#4c4c4c" >21</text>
<text x="450.9" y="493.8" font-size="6.55" text-anchor="middle" font-weight="normal" fill="#4c4c4c" >40</text>
<text x="450.9" y="504.5" font-size="6.55" text-anchor="middle" font-weight="normal" fill="#4c4c4c" >13</text>
<text x="466.9" y="482.3" font-size="6.55" text-anchor="middle" font-weight="normal" fill="#4c4c4c" >22</text>
<text x="466.9" y="493.8" font-size="6.55" text-anchor="middle" font-weight="normal" fill="#4c4c4c" >35</text>
<text x="466.9" y="504.5" font-size="6.55" text-anchor="middle" font-weight="normal" fill="#4c4c4c" >11</text>
<text x="482.8" y="482.3" font-size="6.55" text-anchor="middle" font-weight="normal" fill="#4c4c4c" >23</text>
<text x="482.8" y="493.8" font-size="6.55" text-anchor="middle" font-weight="normal" fill="#4c4c4c" >30</text>
<text x="482.8" y="504.5" font-size="6.55" text-anchor="middle" font-weight="normal" fill="#4c4c4c" >7</text>
<text x="498.8" y="482.3" font-size="6.55" text-anchor="middle" font-weight="normal" fill="#4c4c4c" >24</text>
<text x="498.8" y="493.8" font-size="6.55" text-anchor="middle" font-weight="normal" fill="#4c4c4c" >25</text>
<text x="498.8" y="504.5" font-size="6.55" text-anchor="middle" font-weight="normal" fill="#4c4c4c" >6</text>
<text x="514.8" y="482.3" font-size="6.55" text-anchor="middle" font-weight="normal" fill="#4c4c4c" >25</text>
<text x="514.8" y="493.8" font-size="6.55" text-anchor="middle" font-weight="normal" fill="#4c4c4c" >17</text>
<text x="514.8" y="504.5" font-size="6.55" text-anchor="middle" font-weight="normal" fill="#4c4c4c" >4</text>
<text x="530.7" y="482.3" font-size="6.55" text-anchor="middle" font-weight="normal" fill="#4c4c4c" >26</text>
<text x="530.7" y="493.8" font-size="6.55" text-anchor="middle" font-weight="normal" fill="#4c4c4c" >14</text>
<text x="530.7" y="504.5" font-size="6.55" text-anchor="middle" font-weight="normal" fill="#4c4c4c" >3</text>
<text x="546.6" y="482.3" font-size="6.55" text-anchor="middle" font-weight="normal" fill="#4c4c4c" >27</text>
<text x="546.6" y="493.8" font-size="6.55" text-anchor="middle" font-weight="normal" fill="#4c4c4c" >11</text>
<text x="546.6" y="504.5" font-size="6.55" text-anchor="middle" font-weight="normal" fill="#4c4c4c" >3</text>
<text x="562.6" y="482.3" font-size="6.55" text-anchor="middle" font-weight="normal" fill="#4c4c4c" >28</text>
<text x="562.6" y="493.8" font-size="6.55" text-anchor="middle" font-weight="normal" fill="#4c4c4c" >7</text>
<text x="562.6" y="504.5" font-size="6.55" text-anchor="middle" font-weight="normal" fill="#4c4c4c" >2</text>
<text x="578.5" y="482.3" font-size="6.55" text-anchor="middle" font-weight="normal" fill="#4c4c4c" >29</text>
<text x="578.5" y="493.8" font-size="6.55" text-anchor="middle" font-weight="normal" fill="#4c4c4c" >4</text>
<text x="578.5" y="504.5" font-size="6.55" text-anchor="middle" font-weight="normal" fill="#4c4c4c" >1</text>
<text x="594.5" y="482.3" font-size="6.55" text-anchor="middle" font-weight="normal" fill="#4c4c4c" >30</text>
<text x="594.5" y="493.8" font-size="6.55" text-anchor="middle" font-weight="normal" fill="#4c4c4c" >2</text>
<text x="594.5" y="504.5" font-size="6.55" text-anchor="middle" font-weight="normal" fill="#4c4c4c" >0</text>
</g>
<g id="inset1">
<rect x="422.3" y="4.8" width="228.7" height="1.2" fill="#a9a8bd"/>
<rect x="422.3" y="28.4" width="228.7" height="1.3" fill="#8d8ba8"/>
<rect x="422.3" y="68.3" width="228.7" height="1.3" fill="#8d8ba8"/>
<rect x="532.8" y="5.4" width="1.1" height="23.6" fill="#8d8ba8"/>
<rect x="591.0" y="5.4" width="1.1" height="23.6" fill="#8d8ba8"/>
<rect x="422.3" y="41.0" width="110.2" height="14.2" fill="#e3e3e3"/>
<rect x="534.1" y="41.0" width="56.6" height="14.2" fill="#e3e3e3"/>
<rect x="592.3" y="41.0" width="59.5" height="14.2" fill="#e3e3e3"/>
<text x="562.8" y="14.1" font-size="8.3" text-anchor="middle" font-weight="bold" fill="#1ba7a0" >SG</text>
<text x="562.8" y="23.5" font-size="8.3" text-anchor="middle" font-weight="bold" fill="#1ba7a0" >(n=235)</text>
<text x="621.5" y="14.1" font-size="8.3" text-anchor="middle" font-weight="bold" fill="#4e4e4e" >TPC</text>
<text x="621.5" y="23.5" font-size="8.3" text-anchor="middle" font-weight="bold" fill="#4e4e4e" >(n=233)</text>
<text x="425.1" y="37.7" font-size="8.0" text-anchor="start" font-weight="bold" fill="#4e4e4e" >No of events</text>
<text x="562.8" y="37.7" font-size="8.0" text-anchor="middle" font-weight="normal" fill="#555" >167</text>
<text x="621.5" y="37.7" font-size="8.0" text-anchor="middle" font-weight="normal" fill="#555" >150</text>
<text x="425.1" y="49.9" font-size="8.0" text-anchor="start" font-weight="bold" fill="#4e4e4e" >Median PFS<tspan font-size="4.5" dy="-2.6">‡</tspan><tspan dy="2.6">, mo (95% CI)</tspan></text>
<text x="562.8" y="49.9" font-size="8.0" text-anchor="middle" font-weight="normal" fill="#555" >5.6 (4.3-6.3)</text>
<text x="621.5" y="49.9" font-size="8.0" text-anchor="middle" font-weight="normal" fill="#555" >1.7 (1.5-2.6)</text>
<text x="425.1" y="64.9" font-size="8.0" text-anchor="start" font-weight="bold" fill="#4e4e4e" >HR (95% CI), <tspan font-style="italic">P</tspan> value</text>
<text x="591.5" y="64.9" font-size="8.0" text-anchor="middle" font-weight="normal" fill="#555" >0.39 (0.31-0.49), <tspan font-style="italic">P</tspan>&lt;0.0001</text>
</g>
<g id="inset2">
<rect x="396.3" y="257.0" width="254.7" height="1.2" fill="#a9a8bd"/>
<rect x="396.3" y="281.3" width="254.7" height="1.3" fill="#8d8ba8"/>
<rect x="396.3" y="337.2" width="254.7" height="1.3" fill="#8d8ba8"/>
<rect x="516.2" y="257.6" width="1.1" height="24.3" fill="#8d8ba8"/>
<rect x="592.1" y="257.6" width="1.1" height="24.3" fill="#8d8ba8"/>
<rect x="396.3" y="292.9" width="119.6" height="15.4" fill="#e3e3e3"/>
<rect x="517.5" y="292.9" width="74.3" height="15.4" fill="#e3e3e3"/>
<rect x="593.4" y="292.9" width="58.4" height="15.4" fill="#e3e3e3"/>
<rect x="396.3" y="322.6" width="119.6" height="14.0" fill="#e3e3e3"/>
<rect x="517.5" y="322.6" width="74.3" height="14.0" fill="#e3e3e3"/>
<rect x="593.4" y="322.6" width="58.4" height="14.0" fill="#e3e3e3"/>
<text x="557.6" y="266.2" font-size="8.3" text-anchor="middle" font-weight="bold" fill="#1ba7a0" >SG</text>
<text x="557.6" y="276.2" font-size="8.3" text-anchor="middle" font-weight="bold" fill="#1ba7a0" >(n=235)</text>
<text x="625.8" y="266.2" font-size="8.3" text-anchor="middle" font-weight="bold" fill="#4e4e4e" >TPC</text>
<text x="625.8" y="276.2" font-size="8.3" text-anchor="middle" font-weight="bold" fill="#4e4e4e" >(n=233)</text>
<text x="399.1" y="289.9" font-size="8.0" text-anchor="start" font-weight="bold" fill="#4e4e4e" >No of events</text>
<text x="557.6" y="289.9" font-size="8.0" text-anchor="middle" font-weight="normal" fill="#555" >173</text>
<text x="625.8" y="289.9" font-size="8.0" text-anchor="middle" font-weight="normal" fill="#555" >199</text>
<text x="399.1" y="302.7" font-size="8.0" text-anchor="start" font-weight="bold" fill="#4e4e4e" >Median OS<tspan font-size="4.5" dy="-2.6">‡</tspan><tspan dy="2.6">, mo (95% CI)</tspan></text>
<text x="557.6" y="302.7" font-size="8.0" text-anchor="middle" font-weight="normal" fill="#555" >12.1 (10.7-14.0)</text>
<text x="625.8" y="302.7" font-size="8.0" text-anchor="middle" font-weight="normal" fill="#555" >6.7 (5.8-7.7)</text>
<text x="399.1" y="317.9" font-size="8.0" text-anchor="start" font-weight="bold" fill="#4e4e4e" >HR (95% CI), <tspan font-style="italic">P</tspan> value</text>
<text x="591.0" y="317.9" font-size="8.0" text-anchor="middle" font-weight="normal" fill="#555" >0.48 (0.39-0.59), <tspan font-style="italic">P</tspan>&lt;0.0001</text>
<text x="399.1" y="332.4" font-size="8.0" text-anchor="start" font-weight="bold" fill="#4e4e4e" >OS Rate (24 mo), % (95% CI)</text>
<text x="557.6" y="332.4" font-size="8.0" text-anchor="middle" font-weight="normal" fill="#555" >22.4 (16.8-28.5)</text>
<text x="625.8" y="332.4" font-size="8.0" text-anchor="middle" font-weight="normal" fill="#555" >5.2 (2.5-9.4)</text>
</g>
<g id="btable">
<rect x="0" y="509" width="651" height="277" fill="#eef5f6"/>
<rect x="16.7" y="514.6" width="634.3" height="44.3" fill="#ffffff"/>
<rect x="16.7" y="558.9" width="634.3" height="24.8" fill="#eff5f6"/>
<rect x="16.7" y="583.7" width="634.3" height="24.8" fill="#f5f9fa"/>
<rect x="16.7" y="608.5" width="634.3" height="24.8" fill="#eff5f6"/>
<rect x="16.7" y="633.2" width="634.3" height="24.8" fill="#f5f9fa"/>
<rect x="16.7" y="658.0" width="634.3" height="24.8" fill="#eff5f6"/>
<rect x="16.7" y="682.8" width="634.3" height="24.8" fill="#f5f9fa"/>
<rect x="16.7" y="707.6" width="634.3" height="24.8" fill="#eff5f6"/>
<rect x="16.7" y="732.4" width="634.3" height="24.8" fill="#f5f9fa"/>
<rect x="16.7" y="757.1" width="634.3" height="24.8" fill="#eff5f6"/>
<rect x="16.7" y="512.8" width="634.3" height="1.9" fill="#cbcdcd"/>
<rect x="16.7" y="558.3" width="634.3" height="1.2" fill="#c9cdcd"/>
<rect x="16.7" y="583.1" width="634.3" height="1.2" fill="#c9cdcd"/>
<rect x="16.7" y="607.9" width="634.3" height="1.2" fill="#c9cdcd"/>
<rect x="16.7" y="632.6" width="634.3" height="1.2" fill="#c9cdcd"/>
<rect x="16.7" y="657.4" width="634.3" height="1.2" fill="#c9cdcd"/>
<rect x="16.7" y="682.2" width="634.3" height="1.2" fill="#c9cdcd"/>
<rect x="16.7" y="707.0" width="634.3" height="1.2" fill="#c9cdcd"/>
<rect x="16.7" y="731.8" width="634.3" height="1.2" fill="#c9cdcd"/>
<rect x="16.7" y="756.5" width="634.3" height="1.2" fill="#c9cdcd"/>
<rect x="16.7" y="781.3" width="634.3" height="1.2" fill="#c9cdcd"/>
<rect x="247.1" y="514.6" width="1.1" height="93.9" fill="#c9cdcd"/>
<rect x="480.1" y="514.6" width="1.1" height="69.1" fill="#c9cdcd"/>
<rect x="247.1" y="633.2" width="1.1" height="148.7" fill="#c9cdcd"/>
<rect x="480.1" y="633.2" width="1.1" height="74.3" fill="#c9cdcd"/>
<rect x="480.1" y="732.4" width="1.1" height="49.6" fill="#c9cdcd"/>
<text x="364.0" y="533.2" font-size="12.4" text-anchor="middle" font-weight="bold" fill="#4fb2aa" stroke="#ffffff" stroke-width="0.3">SG</text>
<text x="364.0" y="549.5" font-size="12.4" text-anchor="middle" font-weight="bold" fill="#4fb2aa" stroke="#ffffff" stroke-width="0.3">(n=235)</text>
<text x="596.5" y="533.2" font-size="12.4" text-anchor="middle" font-weight="bold" fill="#606060" stroke="#ffffff" stroke-width="0.3">TPC</text>
<text x="596.5" y="549.5" font-size="12.4" text-anchor="middle" font-weight="bold" fill="#606060" stroke="#ffffff" stroke-width="0.3">(n=233)</text>
<text x="20.2" y="576.1" font-size="12.2" text-anchor="start" font-weight="bold" fill="#434343" stroke="#eff5f6" stroke-width="0.26">ORR, n (%)</text>
<text x="364.0" y="576.1" font-size="12.2" text-anchor="middle" font-weight="normal" fill="#555" >82 (35)</text>
<text x="596.5" y="576.1" font-size="12.2" text-anchor="middle" font-weight="normal" fill="#555" >11 (5)</text>
<text x="20.2" y="600.9" font-size="12.2" text-anchor="start" font-weight="bold" fill="#434343" stroke="#f5f9fa" stroke-width="0.26">OR (95% CI), <tspan font-style="italic">P</tspan> Value<tspan font-size="7" dy="-4" stroke="none" font-weight="normal">†</tspan><tspan dy="4"></tspan></text>
<text x="479.5" y="600.9" font-size="12.2" text-anchor="middle" font-weight="normal" fill="#555" >10.9 (5.6-21.1), <tspan font-style="italic">P</tspan>&lt;0.0001</text>
<text x="20.2" y="625.7" font-size="12.2" text-anchor="start" font-weight="bold" fill="#434343" stroke="#eff5f6" stroke-width="0.26">Best overall response<tspan font-size="7" dy="-4" stroke="none" font-weight="normal">‡</tspan><tspan dy="4">, n (%)</tspan></text>
<text x="31.2" y="650.5" font-size="12.2" text-anchor="start" font-weight="normal" fill="#5a5a5a" >CR</text>
<text x="364.0" y="650.5" font-size="12.2" text-anchor="middle" font-weight="normal" fill="#555" >10 (4)</text>
<text x="596.5" y="650.5" font-size="12.2" text-anchor="middle" font-weight="normal" fill="#555" >2 (1)</text>
<text x="31.2" y="675.3" font-size="12.2" text-anchor="start" font-weight="normal" fill="#5a5a5a" >PR</text>
<text x="364.0" y="675.3" font-size="12.2" text-anchor="middle" font-weight="normal" fill="#555" >72 (31)</text>
<text x="596.5" y="675.3" font-size="12.2" text-anchor="middle" font-weight="normal" fill="#555" >9 (4)</text>
<text x="20.2" y="700.0" font-size="12.2" text-anchor="start" font-weight="bold" fill="#434343" stroke="#f5f9fa" stroke-width="0.26">CBR, n (%)</text>
<text x="364.0" y="700.0" font-size="12.2" text-anchor="middle" font-weight="normal" fill="#555" >105 (45)</text>
<text x="596.5" y="700.0" font-size="12.2" text-anchor="middle" font-weight="normal" fill="#555" >20 (9)</text>
<text x="20.2" y="724.8" font-size="12.2" text-anchor="start" font-weight="bold" fill="#434343" stroke="#eff5f6" stroke-width="0.26">OR (95% CI), <tspan font-style="italic">P</tspan> Value<tspan font-size="7" dy="-4" stroke="none" font-weight="normal">†</tspan><tspan dy="4"></tspan></text>
<text x="479.5" y="724.8" font-size="12.2" text-anchor="middle" font-weight="normal" fill="#555" >8.5 (5.1-14.4), <tspan font-style="italic">P</tspan>&lt;0.0001</text>
<text x="20.2" y="749.6" font-size="12.2" text-anchor="start" font-weight="bold" fill="#434343" stroke="#f5f9fa" stroke-width="0.26">Median DOR<tspan font-size="7" dy="-4" stroke="none" font-weight="normal">§</tspan><tspan dy="4">, mo (95% CI)</tspan></text>
<text x="364.0" y="749.6" font-size="12.2" text-anchor="middle" font-weight="normal" fill="#555" >6.3 (5.5-7.9)</text>
<text x="596.5" y="749.6" font-size="12.2" text-anchor="middle" font-weight="normal" fill="#555" >3.6 (2.8-NE)</text>
<text x="20.2" y="774.4" font-size="12.2" text-anchor="start" font-weight="bold" fill="#434343" stroke="#eff5f6" stroke-width="0.26">Median TTR, mo (range)</text>
<text x="364.0" y="774.4" font-size="12.2" text-anchor="middle" font-weight="normal" fill="#555" >1.5 (0.7-10.6)</text>
<text x="596.5" y="774.4" font-size="12.2" text-anchor="middle" font-weight="normal" fill="#555" >1.45 (1.3-4.2)</text>
</g>
</svg>
</body></html>
